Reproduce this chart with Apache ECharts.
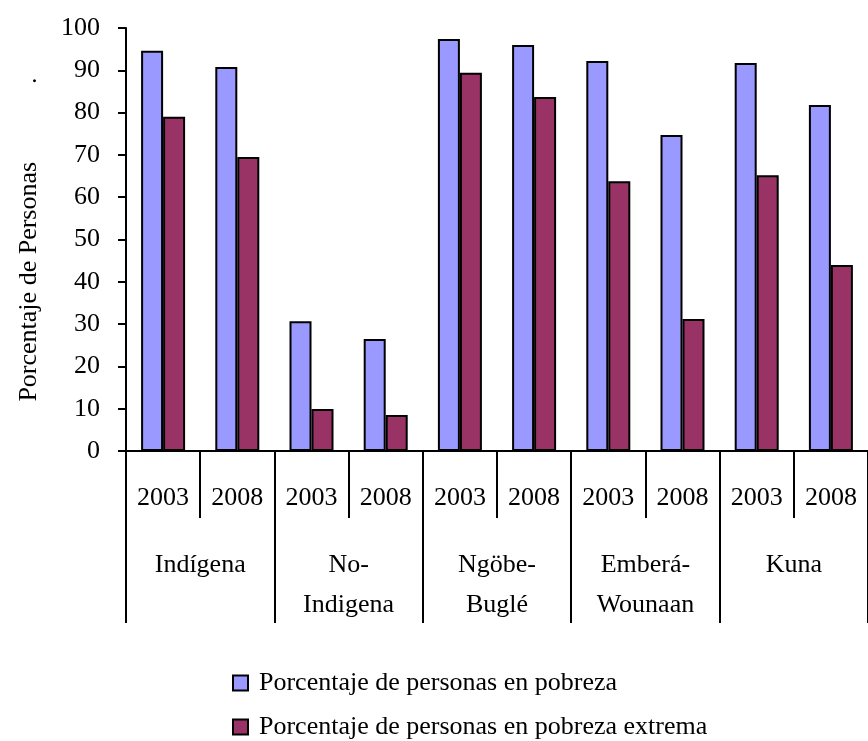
<!DOCTYPE html>
<html>
<head>
<meta charset="utf-8">
<script src="https://cdn.jsdelivr.net/npm/echarts@6/dist/echarts.min.js"></script>
<style>
  html, body { margin: 0; padding: 0; background: #fff; }
  #chart { width: 868px; height: 741px; }
</style>
</head>
<body>
<div id="chart"></div>
<script>
// años y grupos del eje x
const years = ["2003", "2008", "2003", "2008", "2003", "2008", "2003", "2008", "2003", "2008"];
const groups = ["Indígena", "No-\nIndigena", "Ngöbe-\nBuglé", "Emberá-\nWounaan", "Kuna"];
const seriesNames = ["Porcentaje de personas en pobreza", "Porcentaje de personas en pobreza extrema"];
const pobreza = [94.6, 90.8, 30.7, 26.5, 97.4, 96.0, 92.2, 74.7, 91.7, 81.8];
const pobrezaExtrema = [79.0, 69.5, 9.9, 8.5, 89.4, 83.7, 63.8, 31.2, 65.2, 44.0];

const font = "Liberation Serif";
const chart = echarts.init(document.getElementById("chart"));

const option = {
  animation: false,
  textStyle: { fontFamily: font, color: "#000" },
  grid: { left: 126, top: 28, width: 750, bottom: 290 },
  legend: {
    orient: "vertical",
    left: 232,
    top: 670,
    height: 71,
    padding: 0,
    icon: "rect",
    itemWidth: 15,
    itemHeight: 15,
    itemGap: 18,
    textStyle: { fontFamily: font, fontSize: 26, lineHeight: 26, color: "#000", padding: [0, 0, 0, 6] },
    data: seriesNames
  },
  xAxis: [
    {
      type: "category",
      position: "bottom",
      data: years,
      axisLine: { lineStyle: { color: "#000", width: 2 } },
      axisTick: { show: true, interval: 0, length: 67, lineStyle: { color: "#000", width: 2 } },
      axisLabel: { interval: 0, margin: 34, fontSize: 26, fontFamily: font, color: "#000" }
    },
    {
      type: "category",
      position: "bottom",
      data: groups,
      axisLine: { show: false },
      axisTick: { show: true, interval: 0, length: 172, lineStyle: { color: "#000", width: 2 } },
      axisLabel: { interval: 0, margin: 94, fontSize: 26, lineHeight: 40, fontFamily: font, color: "#000" }
    }
  ],
  yAxis: {
    type: "value",
    min: 0,
    max: 100,
    interval: 10,
    name: "Porcentaje de Personas            .",
    nameLocation: "middle",
    nameGap: 84,
    nameTextStyle: { fontFamily: font, fontSize: 26, color: "#000" },
    axisLine: { show: true, lineStyle: { color: "#000", width: 2 } },
    axisTick: { show: true, inside: false, length: 8, lineStyle: { color: "#000", width: 2 } },
    axisLabel: { margin: 26, fontSize: 26, fontFamily: font, color: "#000" },
    splitLine: { show: false }
  },
  series: [
    {
      name: seriesNames[0],
      type: "bar",
      xAxisIndex: 0,
      data: pobreza,
      barWidth: 22,
      barGap: "0%",
      itemStyle: { color: "#9999FF", borderColor: "#000", borderWidth: 2 }
    },
    {
      name: seriesNames[1],
      type: "bar",
      xAxisIndex: 0,
      data: pobrezaExtrema,
      barWidth: 22,
      barGap: "0%",
      itemStyle: { color: "#993366", borderColor: "#000", borderWidth: 2 }
    }
  ]
};

chart.setOption(option);
</script>
</body>
</html>
